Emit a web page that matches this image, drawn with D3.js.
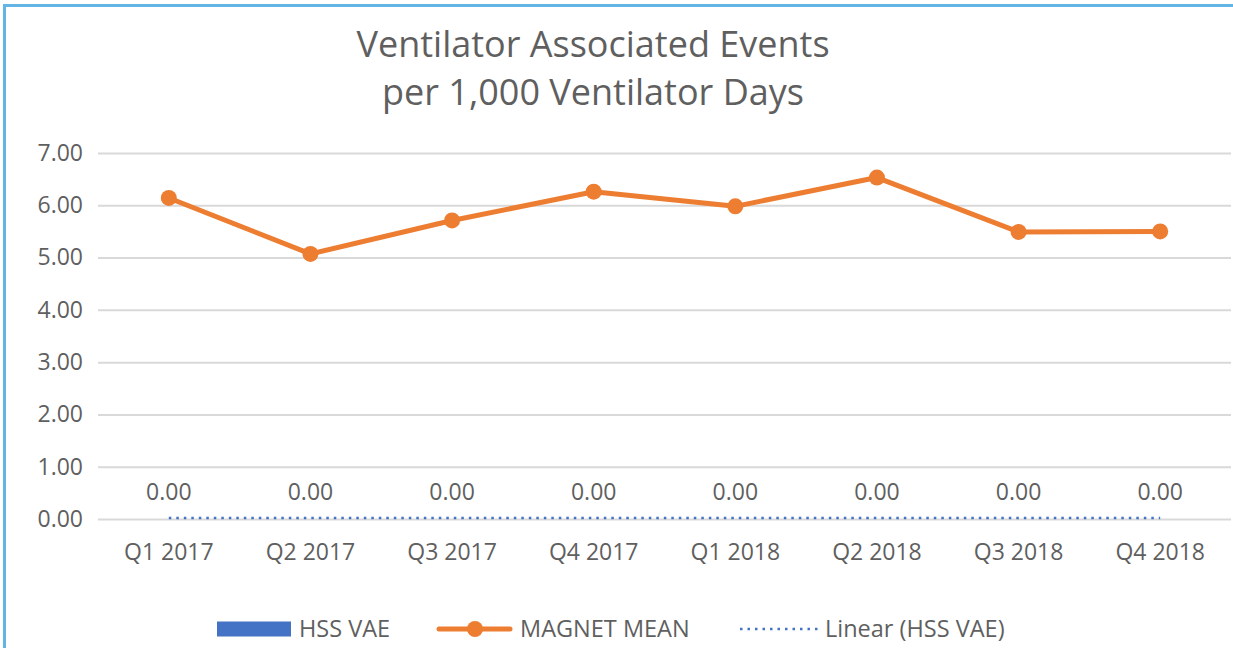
<!DOCTYPE html>
<html>
<head>
<meta charset="utf-8">
<script src="https://cdn.jsdelivr.net/npm/d3@7"></script>
<style>
  body { margin: 0; background: #fff; }
  svg { display: block; font-family: "Open Sans", sans-serif; }
</style>
</head>
<body>
<svg id="chart" width="1233" height="648"></svg>
<script>
// chart data
const quarters = ["Q1 2017", "Q2 2017", "Q3 2017", "Q4 2017", "Q1 2018", "Q2 2018", "Q3 2018", "Q4 2018"];
const hssVae = [0, 0, 0, 0, 0, 0, 0, 0];
const magnetMean = [6.14, 5.07, 5.71, 6.26, 5.98, 6.53, 5.49, 5.50];
const yTicks = [0, 1, 2, 3, 4, 5, 6, 7];
const titleLines = ["Ventilator Associated Events", "per 1,000 Ventilator Days"];

const textColor = "#5f5f5f";
const orange = "#ED7D31";
const blue = "#4472C4";

const svg = d3.select("#chart");

// outer frame (only left and top edges show)
svg.append("path")
    .attr("d", "M4.5,648 L4.5,5.5 L1233,5.5")
    .attr("fill", "none")
    .attr("stroke", "#62B5E5")
    .attr("stroke-width", 3);

// title
svg.append("g").selectAll("text")
    .data(titleLines)
    .enter()
    .append("text")
    .attr("x", 593)
    .attr("y", (d, i) => 57 + i * 48)
    .attr("text-anchor", "middle")
    .style("font-size", "36px")
    .style("fill", textColor)
    .text(d => d);

// scales
const x = d3.scaleBand()
    .domain(quarters)
    .range([98, 1231]);

const y = d3.scaleLinear()
    .domain([0, 7])
    .range([519, 153]);

// gridlines + y labels
const yAxis = d3.axisLeft(y)
    .tickValues(yTicks)
    .tickSize(-(1231 - 98))
    .tickPadding(15)
    .tickFormat(d3.format(".2f"));

svg.append("g")
    .attr("transform", "translate(98,0)")
    .call(yAxis)
    .call(g => g.select(".domain").remove())
    .call(g => g.selectAll("line").attr("stroke", "#D9D9D9").attr("stroke-width", 2))
    .call(g => g.selectAll("text")
        .style("font-size", "23px")
        .style("font-family", "Open Sans, sans-serif")
        .attr("fill", textColor));

// category labels
const xAxis = d3.axisBottom(x).tickSize(0).tickPadding(25);
svg.append("g")
    .attr("transform", "translate(0,519)")
    .call(xAxis)
    .call(g => g.select(".domain").remove())
    .call(g => g.selectAll("text")
        .style("font-size", "23px")
        .style("font-family", "Open Sans, sans-serif")
        .attr("fill", textColor));

// HSS VAE bars (all zero) with data labels
const barW = x.bandwidth() * 0.45;
svg.append("g").selectAll("rect")
    .data(hssVae)
    .enter()
    .append("rect")
    .attr("x", (d, i) => x(quarters[i]) + (x.bandwidth() - barW) / 2)
    .attr("y", d => y(d))
    .attr("width", barW)
    .attr("height", d => y(0) - y(d))
    .attr("fill", blue);

svg.append("g").selectAll("text")
    .data(hssVae)
    .enter()
    .append("text")
    .attr("x", (d, i) => x(quarters[i]) + x.bandwidth() / 2)
    .attr("y", d => y(d) - 19)
    .attr("text-anchor", "middle")
    .style("font-size", "23px")
    .style("fill", textColor)
    .text(d => d3.format(".2f")(d));

// linear trend of HSS VAE (least squares)
const n = hssVae.length;
const xm = d3.mean(hssVae, (d, i) => i);
const ym = d3.mean(hssVae);
const sxy = d3.sum(hssVae, (d, i) => (i - xm) * (d - ym));
const sxx = d3.sum(hssVae, (d, i) => (i - xm) * (i - xm));
const slope = sxx ? sxy / sxx : 0;
const trend = [0, n - 1].map(i => ({ i: i, v: ym + slope * (i - xm) }));

svg.append("path")
    .datum(trend)
    .attr("fill", "none")
    .attr("stroke", blue)
    .attr("stroke-width", 2.5)
    .attr("stroke-dasharray", "2.5,5")
    .attr("d", d3.line()
        .x(d => x(quarters[d.i]) + x.bandwidth() / 2)
        .y(d => y(d.v) - 1));

// MAGNET MEAN line
svg.append("path")
    .datum(magnetMean)
    .attr("fill", "none")
    .attr("stroke", orange)
    .attr("stroke-width", 5)
    .attr("stroke-linejoin", "round")
    .attr("d", d3.line()
        .x((d, i) => x(quarters[i]) + x.bandwidth() / 2)
        .y(d => y(d)));

svg.append("g").selectAll("circle")
    .data(magnetMean)
    .enter()
    .append("circle")
    .attr("cx", (d, i) => x(quarters[i]) + x.bandwidth() / 2)
    .attr("cy", d => y(d))
    .attr("r", 8)
    .attr("fill", orange);

// legend
const legend = svg.append("g").attr("transform", "translate(0,629)");

legend.append("rect")
    .attr("x", 217).attr("y", -7.5)
    .attr("width", 74).attr("height", 15)
    .attr("fill", blue);
legend.append("text")
    .attr("x", 299).attr("y", 8)
    .style("font-size", "23.5px").style("fill", textColor)
    .text("HSS VAE");

legend.append("line")
    .attr("x1", 439).attr("x2", 510)
    .attr("stroke", orange).attr("stroke-width", 5)
    .attr("stroke-linecap", "round");
legend.append("circle")
    .attr("cx", 475).attr("r", 8)
    .attr("fill", orange);
legend.append("text")
    .attr("x", 520).attr("y", 8)
    .style("font-size", "23.5px").style("fill", textColor)
    .text("MAGNET MEAN");

legend.append("line")
    .attr("x1", 740).attr("x2", 818)
    .attr("stroke", blue).attr("stroke-width", 2.5)
    .attr("stroke-dasharray", "2.5,5");
legend.append("text")
    .attr("x", 825).attr("y", 8)
    .style("font-size", "23.5px").style("fill", textColor)
    .text("Linear (HSS VAE)");
</script>
</body>
</html>
